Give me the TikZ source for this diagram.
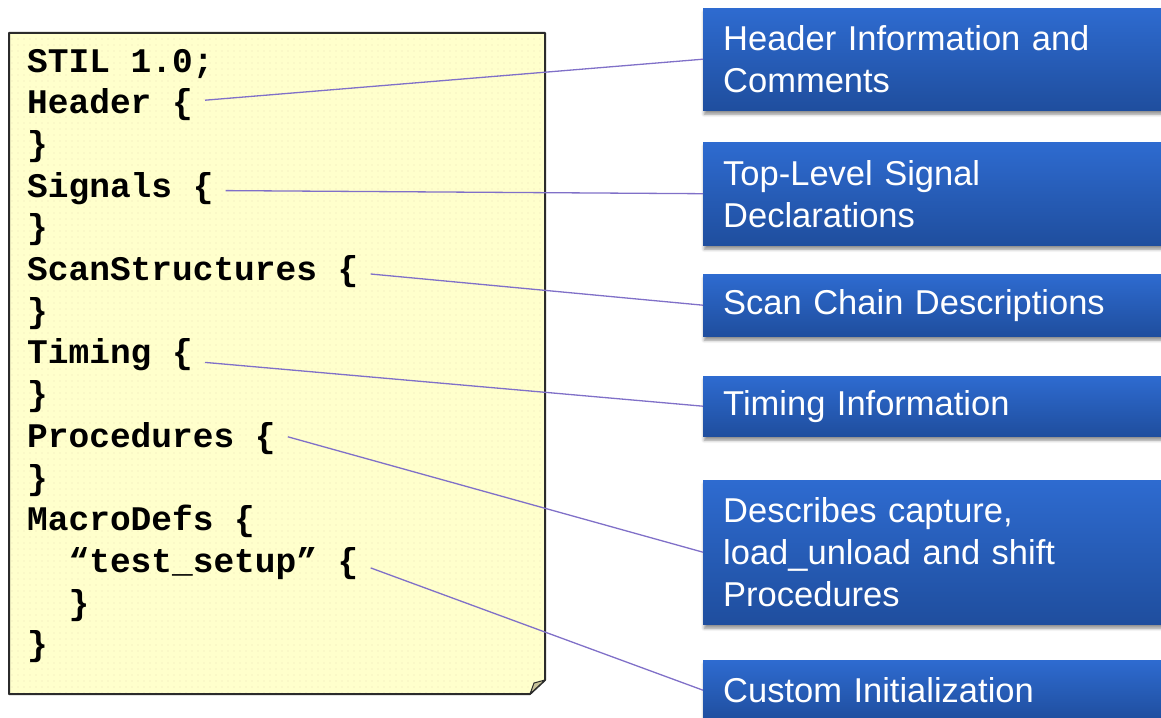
\documentclass[tikz,border=0pt]{standalone}
\usepackage{fontspec}
\newfontfamily\codefont{Liberation Mono}
\newfontfamily\labelfont{Liberation Sans}
\usetikzlibrary{shadows.blur,patterns.meta}

\definecolor{notefill}{HTML}{FFFFCC}
\definecolor{notedots}{HTML}{ECE5BA}
\definecolor{noteedge}{HTML}{2B2B2B}
\definecolor{foldfill}{HTML}{C9C39A}
\definecolor{boxtop}{HTML}{2E6BD0}
\definecolor{boxbottom}{HTML}{1F4E9E}
\definecolor{linkcol}{RGB}{128,112,200}

\begin{document}
\begin{tikzpicture}[x=1pt,y=-1pt,
  code/.style={anchor=base west, inner xsep=12pt, inner ysep=0pt,
    text height=13pt, text depth=0pt, text=black,
    font=\codefont\bfseries\fontsize{34.5}{41}\selectfont},
  infobox/.style={anchor=north west, rectangle, draw=none,
    top color=boxtop, bottom color=boxbottom,
    text=white, text width=440pt, inner xsep=20pt, inner ysep=0pt,
    align=left, font=\labelfont\fontsize{34.5}{42}\selectfont,
    blur shadow={shadow xshift=1pt, shadow yshift=-4pt,
      shadow blur radius=3pt, shadow opacity=45}},
  link/.style={draw=linkcol, line width=1.3pt}
]
\useasboundingbox (0,0) rectangle (1161,717);
\clip (0,0) rectangle (1161,717);

% the note sheet with its folded corner
\fill[notefill]
  (9,33) -- (545,33) -- (545,680) -- (530,694) -- (9,694) -- cycle;
\fill[pattern={Dots[distance=6pt, radius=0.7pt]}, pattern color=notedots]
  (9,33) -- (545,33) -- (545,680) -- (530,694) -- (9,694) -- cycle;
\draw[draw=noteedge, line width=2pt, line join=round]
  (9,33) -- (545,33) -- (545,680) -- (530,694) -- (9,694) -- cycle;
\filldraw[fill=foldfill, draw=noteedge, line width=1pt, line join=round]
  (545,680) .. controls (539,681) .. (534,683)
  .. controls (532,688) .. (530,694) -- cycle;

% STIL source lines
\node[code] (l0)  at (15,72)    {STIL 1.0;};
\node[code] (l1)  at (15,113.7) {Header \{};
\node[code] (l2)  at (15,155.4) {\}};
\node[code] (l3)  at (15,197.1) {Signals \{};
\node[code] (l4)  at (15,238.8) {\}};
\node[code] (l5)  at (15,280.5) {ScanStructures \{};
\node[code] (l6)  at (15,322.2) {\}};
\node[code] (l7)  at (15,363.9) {Timing \{};
\node[code] (l8)  at (15,405.6) {\}};
\node[code] (l9)  at (15,447.3) {Procedures \{};
\node[code] (l10) at (15,489)   {\}};
\node[code] (l11) at (15,530.7) {MacroDefs \{};
\node[code] (l12) at (56.4,572.4) {“test\_setup” \{};
\node[code] (l13) at (56.4,614.1) {\}};
\node[code] (l14) at (15,655.8) {\}};

% explanation boxes
\node[infobox, minimum height=102pt] (b1) at (703,8)   {Header Information and\\Comments};
\node[infobox, minimum height=103pt] (b2) at (703,142) {Top-Level Signal\\Declarations};
\node[infobox, minimum height=62pt]  (b3) at (703,274) {Scan Chain Descriptions};
\node[infobox, minimum height=60pt]  (b4) at (703,376) {Timing Information};
\node[infobox, minimum height=144pt] (b5) at (703,480) {Describes capture,\\load\_unload and shift\\Procedures};
\node[infobox, minimum height=60pt]  (b6) at (703,660) {Custom Initialization};

% connectors from each block to its description
\draw[link] ([yshift=7pt]l1.east)  -- (b1.west);
\draw[link] (l3.east)              -- (b2.west);
\draw[link] (l5.east)              -- (b3.west);
\draw[link] ([yshift=-5pt]l7.east) -- (b4.west);
\draw[link] ([yshift=4pt]l9.east)  -- (b5.west);
\draw[link] ([yshift=-2pt]l12.east) -- (b6.west);
\end{tikzpicture}
\end{document}
